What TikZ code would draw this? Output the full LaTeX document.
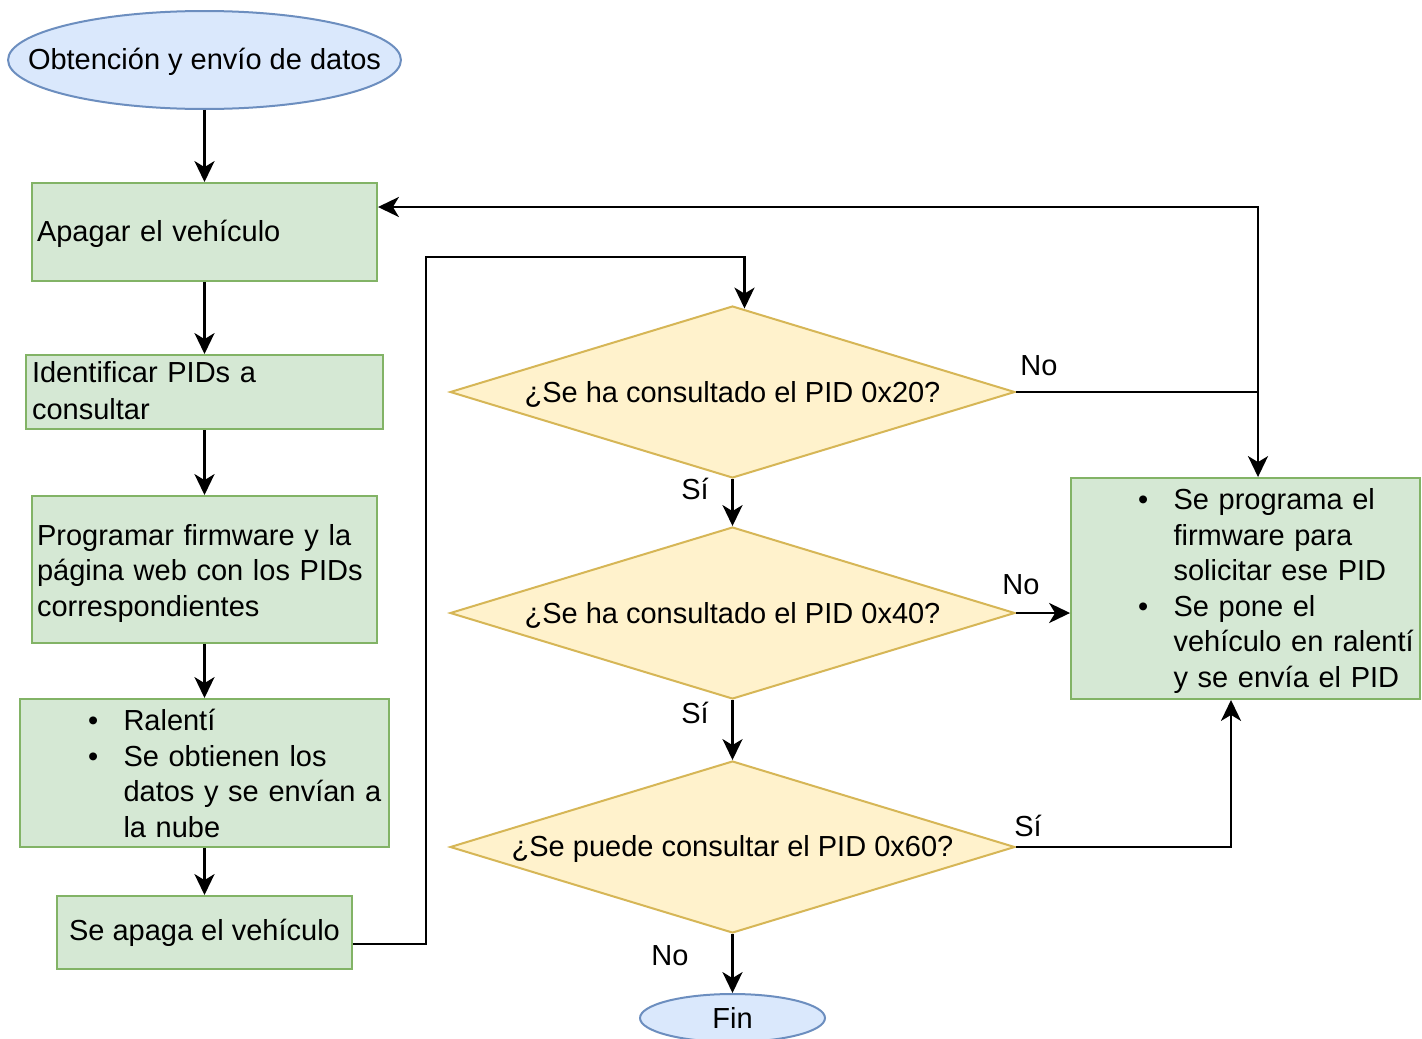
\documentclass[tikz,border=0pt]{standalone}
\usepackage{fontspec}
\setmainfont{Liberation Sans}
\usetikzlibrary{shapes.geometric,arrows.meta,calc}

% one drawing unit = one pixel of the layout grid
\newlength{\px}\setlength{\px}{0.569055pt}

\definecolor{grfill}{HTML}{D5E8D4}
\definecolor{grline}{HTML}{82B366}
\definecolor{yefill}{HTML}{FFF2CC}
\definecolor{yeline}{HTML}{D6B656}
\definecolor{blfill}{HTML}{DAE8FC}
\definecolor{blline}{HTML}{6C8EBF}

% bullet with its hanging indent
\newcommand{\blt}{\makebox[35.5\px][l]{\textbullet}}
\newcommand{\hang}{\hspace*{35.5\px}}
% lower a text block without changing the size it reports
\newcommand{\lowered}[2]{\raisebox{-#1\px}[\height][\depth]{#2}}

\begin{document}
\begin{tikzpicture}[x=0.02cm,y=-0.02cm,
  font=\fontsize{29\px}{35.5\px}\selectfont,
  base/.style={inner sep=0pt, line width=2\px},
  term/.style={base, ellipse, draw=blline, fill=blfill},
  proc/.style={base, rectangle, draw=grline, fill=grfill},
  dec/.style={base, diamond, draw=yeline, fill=yefill,
    minimum width=565\px, minimum height=172\px, aspect=3.28},
  conn/.style={line width=1.42pt},
  arr/.style={conn, -{Stealth[length=11.9pt,width=11.4pt,inset=3.4pt]}},
  lbl/.style={inner sep=0pt}
]
\useasboundingbox (0,0) rectangle (1422,1038);
\clip (0,0) rectangle (1422,1038);
\fill[white] (0,0) rectangle (1422,1038);

% left column
\node[term, minimum width=393\px, minimum height=98\px] (start) at (204.5,60)
  {\makebox[0pt]{\lowered{2}{Obtención y envío de datos}}};
\node[proc, minimum width=345\px, minimum height=98\px, text width=335\px,
  inner xsep=5\px, align=left] (apagar) at (204.5,232)
  {\lowered{2}{Apagar el vehículo}};
\node[proc, minimum width=357\px, minimum height=74\px, text width=345\px,
  inner xsep=6\px, align=left] (ident) at (204.5,392)
  {\lowered{2}{\begin{tabular}{@{}l@{}}Identificar PIDs a\\[1.5\px]consultar\end{tabular}}};
\node[proc, minimum width=345\px, minimum height=147\px, text width=335\px,
  inner xsep=5\px, align=left] (prog) at (204.5,569.5)
  {\lowered{4}{\begin{tabular}{@{}l@{}}Programar firmware y la\\
    página web con los PIDs\\correspondientes\end{tabular}}};
\node[proc, minimum width=369\px, minimum height=148\px, text width=369\px,
  align=left] (ral) at (204.5,773)
  {\hspace*{68\px}\lowered{4}{\begin{tabular}{@{}l@{}}
    \blt Ralentí\\
    \blt Se obtienen los\\
    \hang datos y se envían a\\
    \hang la nube
  \end{tabular}}};
\node[proc, minimum width=295\px, minimum height=73\px] (apaga) at (204.5,932.5)
  {Se apaga el vehículo};

% decisions
\node[dec] (d1) at (732.5,392) {\lowered{2}{¿Se ha consultado el PID 0x20?}};
\node[dec] (d2) at (732.5,613) {\lowered{2}{¿Se ha consultado el PID 0x40?}};
\node[dec] (d3) at (732.5,847) {\lowered{2}{¿Se puede consultar el PID 0x60?}};
\node[term, minimum width=185\px, minimum height=48\px] (fin) at (732.5,1018)
  {\makebox[0pt]{Fin}};

% right action box
\node[proc, minimum width=349\px, minimum height=221\px, text width=349\px,
  align=left] (rb) at (1245.5,588.5)
  {\hspace*{67\px}\lowered{3}{\begin{tabular}{@{}l@{}}
    \blt Se programa el\\
    \hang firmware para\\
    \hang solicitar ese PID\\
    \blt Se pone el\\
    \hang vehículo en ralentí\\
    \hang y se envía el PID
  \end{tabular}}};

% routing points
\coordinate (loopL) at (426,257);
\coordinate (jn) at (1258,392);

% main sequence
\draw[arr] (start.south) -- (apagar.north);
\draw[arr] (apagar.south) -- (ident.north);
\draw[arr] (ident.south) -- (prog.north);
\draw[arr] (prog.south) -- (ral.north);
\draw[arr] (ral.south) -- (apaga.north);
\draw[arr] ($(apaga.east)+(0,11.5)$) -| (loopL) -| ($(d1.north)+(12,3.5)$);

% decisions
\draw[arr] (d1.east) -| (rb.north -| jn);
\draw[arr] (jn) |- ($(apagar.east)+(0,-25)$);
\draw[arr] (d1.south) -- (d2.north);
\draw[arr] (d2.east) -- (d2.east -| rb.west);
\draw[arr] (d2.south) -- (d3.north);
\draw[arr] (d3.east) -| ($(rb.south)+(-14.5,0)$);
\draw[arr] (d3.south) -- (fin.north);

% branch labels
\node[lbl] (lno1) at (1039,366) {No};
\node[lbl] (lsi1) at (695,489) {Sí};
\node[lbl] (lno2) at (1021,585) {No};
\node[lbl] (lsi2) at (695,713) {Sí};
\node[lbl] (lsi3) at (1028,826) {Sí};
\node[lbl] (lno3) at (670,956) {No};
\end{tikzpicture}
\end{document}
